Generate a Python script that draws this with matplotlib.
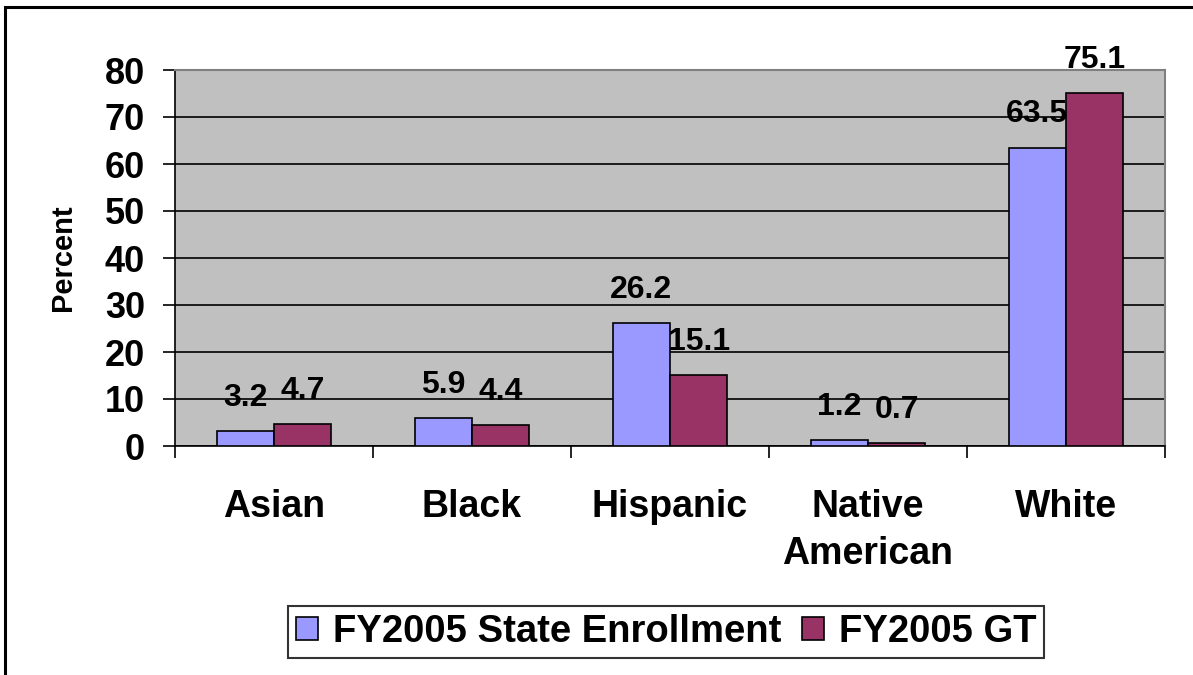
import numpy as np
import matplotlib.pyplot as plt
from matplotlib.patches import Rectangle

categories = ["Asian", "Black", "Hispanic", "Native\nAmerican", "White"]
state_enrollment = [3.2, 5.9, 26.2, 1.2, 63.5]
gt_enrollment = [4.7, 4.4, 15.1, 0.7, 75.1]
series_names = ["FY2005 State Enrollment", "FY2005 GT"]
yticks = [0, 10, 20, 30, 40, 50, 60, 70, 80]

plt.rcParams['font.family'] = ['Liberation Sans', 'DejaVu Sans']
plt.rcParams['font.weight'] = 'bold'

W, H = 1193, 675
fig = plt.figure(figsize=(W / 100, H / 100), dpi=100, facecolor='white')

# outer frame of the figure (runs off right and bottom)
fig.patches.append(Rectangle((5 / W, -0.05), 1.1, 1 - 7 / H + 0.05,
                             transform=fig.transFigure, fill=False,
                             edgecolor='black', linewidth=2.2))

ax = fig.add_axes([175 / W, 1 - 446 / H, 990 / W, 376 / H])
ax.set_facecolor('#C0C0C0')

x = np.arange(len(categories))
bw = 0.29
b1 = ax.bar(x - bw / 2, state_enrollment, bw, color='#9999FF',
            edgecolor='black', linewidth=1.2, zorder=3, label=series_names[0])
b2 = ax.bar(x + bw / 2, gt_enrollment, bw, color='#993366',
            edgecolor='black', linewidth=1.2, zorder=3, label=series_names[1])

for bars, vals in ((b1, state_enrollment), (b2, gt_enrollment)):
    for rect, v in zip(bars, vals):
        ax.annotate(f"{v}", (rect.get_x() + rect.get_width() / 2, v),
                    xytext=(0, 13), textcoords='offset points',
                    ha='center', va='bottom', fontsize=23,
                    fontweight='bold', zorder=4)

ax.set_xlim(-0.5, len(categories) - 0.5)
ax.set_ylim(0, 80)
ax.set_yticks(yticks)
ax.yaxis.grid(True, color='black', linewidth=1.2, zorder=1)
ax.set_axisbelow(True)
ax.tick_params(axis='y', labelsize=26, length=8.6, width=1.2, pad=13)

ax.set_xticks(x)
ax.set_xticklabels(categories, fontsize=27, fontweight='bold', linespacing=1.38)
ax.set_xticks(np.arange(len(categories) + 1) - 0.5, minor=True)
ax.tick_params(axis='x', which='major', length=0, pad=31)
ax.tick_params(axis='x', which='minor', length=8.6, width=1.2, direction='out')
for lab in ax.get_yticklabels():
    lab.set_fontweight('bold')

ax.set_ylabel("Percent", fontsize=21, fontweight='bold', labelpad=20)

for side in ('top', 'right'):
    ax.spines[side].set_color('#808080')
    ax.spines[side].set_linewidth(1.5)
for side in ('left', 'bottom'):
    ax.spines[side].set_color('black')
    ax.spines[side].set_linewidth(1.2)

leg = fig.legend(handles=[b1, b2], loc='center', ncol=2,
                 bbox_to_anchor=(666 / W, 1 - 632 / H),
                 prop={'size': 27.5, 'weight': 'bold'},
                 frameon=True, fancybox=False, handlelength=0.58,
                 handleheight=0.58, handletextpad=0.38, columnspacing=0.55,
                 borderpad=0.2, borderaxespad=0)
leg.get_frame().set_edgecolor('black')
leg.get_frame().set_linewidth(1.5)

fig.savefig("out.png", dpi=100, facecolor='white')
